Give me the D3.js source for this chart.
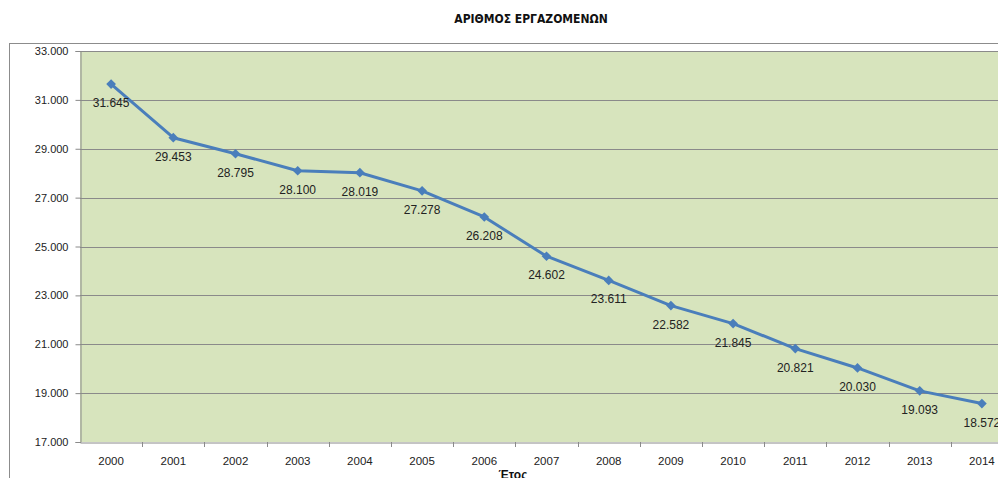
<!DOCTYPE html>
<html><head><meta charset="utf-8">
<script src="https://cdn.jsdelivr.net/npm/d3@7"></script>
<style>body{margin:0;background:#fff;overflow:hidden}svg{display:block}</style>
</head><body>
<svg id="c" width="998" height="478"></svg>
<script>
const years = ["2000","2001","2002","2003","2004","2005","2006","2007","2008","2009","2010","2011","2012","2013","2014"];
const employees = [31645,29453,28795,28100,28019,27278,26208,24602,23611,22582,21845,20821,20030,19093,18572];
const yTicks = [17000,19000,21000,23000,25000,27000,29000,31000,33000];
const title = "ΑΡΙΘΜΟΣ ΕΡΓΑΖΟΜΕΝΩΝ";
const xTitle = "Έτος";

(function(){
const svg = d3.select("#c");
const font = "'Liberation Sans', Arial, sans-serif";
const fmt = v => d3.format(",")(v).replace(/,/g, ".");
const fmt3 = v => { const s = String(v); return s.slice(0, s.length-3) + "." + s.slice(-3); };

svg.append("rect").attr("x",9.5).attr("y",43.5).attr("width",1100).attr("height",500)
  .attr("fill","#fff").attr("stroke","#8c8c8c").attr("stroke-width",1);

svg.append("text").attr("x",531).attr("y",23).attr("text-anchor","middle")
  .attr("font-family","'Liberation Sans Narrow', 'DejaVu Sans Condensed', sans-serif").attr("font-size",12).attr("font-weight","bold")
  .attr("fill","#111").text(title);

const pl = 80, pt = 51, pb = 442;
const x = d3.scaleBand().domain(years).range([pl, pl + 62.2*years.length]);
const y = d3.scaleLinear().domain([17000,33000]).range([pb, pt]);

svg.append("rect").attr("x",pl).attr("y",pt).attr("width",1000).attr("height",pb-pt).attr("fill","#d7e4bd");

svg.append("g").selectAll("line").data(yTicks.slice(1)).join("line")
  .attr("x1",pl).attr("x2",1000).attr("y1",d=>Math.round(y(d))+0.5).attr("y2",d=>Math.round(y(d))+0.5)
  .attr("stroke","#8a8a8a").attr("stroke-width",1);

const ya = svg.append("g").attr("transform",`translate(${pl+0.5},0)`)
  .call(d3.axisLeft(y).tickValues(yTicks).tickFormat(fmt).tickSize(5).tickPadding(7));
ya.select(".domain").attr("stroke","#8a8a8a");
ya.selectAll(".tick line").attr("stroke","#8a8a8a");
ya.selectAll("text").attr("font-family",font).attr("font-size",11).attr("fill","#222");

const xa = svg.append("g").attr("transform",`translate(0,${pb+0.5})`)
  .call(d3.axisBottom(x).tickSize(0).tickPadding(14));
xa.select(".domain").attr("stroke","#8a8a8a");
xa.selectAll("text").attr("font-family",font).attr("font-size",11.5).attr("fill","#222");
svg.append("g").selectAll("line").data(years).join("line")
  .attr("x1",d=>Math.round(x(d)+x.bandwidth())+0.5).attr("x2",d=>Math.round(x(d)+x.bandwidth())+0.5)
  .attr("y1",pb).attr("y2",pb+5).attr("stroke","#8a8a8a");

svg.append("text").attr("x",513).attr("y",479).attr("text-anchor","middle")
  .attr("font-family",font).attr("font-size",12).attr("font-weight","bold").attr("fill","#111").text(xTitle);

const cx = d => x(d) + x.bandwidth()/2;
const line = d3.line().x((d,i)=>cx(years[i])).y(d=>y(d));
svg.append("path").datum(employees).attr("d",line).attr("fill","none")
  .attr("stroke","#4a7ebb").attr("stroke-width",3).attr("stroke-linejoin","round");

svg.append("g").selectAll("path").data(employees).join("path")
  .attr("d",d3.symbol(d3.symbolDiamond2 || d3.symbolDiamond, 60))
  .attr("transform",(d,i)=>`translate(${cx(years[i])},${y(d)})`)
  .attr("fill","#4a7ebb");

svg.append("g").selectAll("text").data(employees).join("text")
  .attr("x",(d,i)=>cx(years[i])).attr("y",d=>y(d)+23).attr("text-anchor","middle")
  .attr("font-family",font).attr("font-size",12).attr("fill","#222").text(fmt3);
})();
</script>
</body></html>
